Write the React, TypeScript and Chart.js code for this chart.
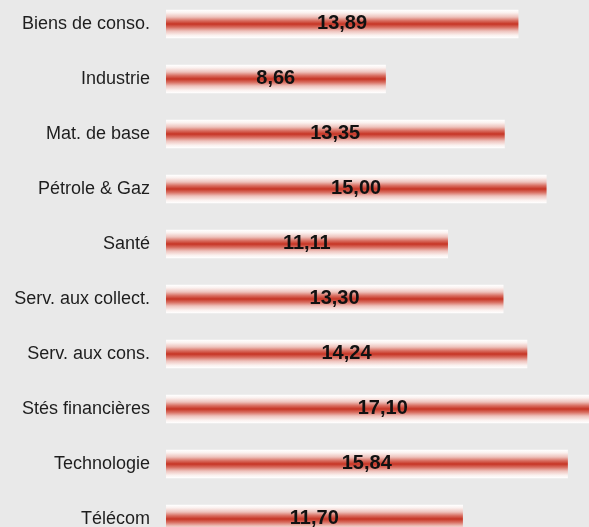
import React, { useEffect, useRef } from "react";
import { Chart, registerables } from "chart.js";

Chart.register(...registerables);

const categories = [
  "Biens de conso.",
  "Industrie",
  "Mat. de base",
  "Pétrole & Gaz",
  "Santé",
  "Serv. aux collect.",
  "Serv. aux cons.",
  "Stés financières",
  "Technologie",
  "Télécom",
];
const values = [13.89, 8.66, 13.35, 15.0, 11.11, 13.3, 14.24, 17.1, 15.84, 11.7];

const xMax = 20;
const BAR = 28;

const valueLabels = {
  id: "valueLabels",
  afterDatasetsDraw(chart: any) {
    const ctx = chart.ctx;
    const meta = chart.getDatasetMeta(0);
    ctx.save();
    ctx.font = "bold 20px 'Liberation Sans', Arial, sans-serif";
    ctx.fillStyle = "#111111";
    ctx.textAlign = "center";
    ctx.textBaseline = "middle";
    meta.data.forEach((el: any, i: number) => {
      const v = values[i];
      const txt = v.toFixed(2).replace(".", ",");
      const cx = (el.base + el.x) / 2;
      ctx.fillText(txt, cx, el.y - 1);
    });
    ctx.restore();
  },
};

function barGradient(c: any) {
  const chart = c.chart;
  const y = chart.scales && chart.scales.y;
  if (!y || c.dataIndex === undefined) return "#c5372a";
  const cy = y.getPixelForValue(c.dataIndex);
  if (!isFinite(cy)) return "#c5372a";
  const top = cy - BAR / 2;
  const g = chart.ctx.createLinearGradient(0, top, 0, top + BAR);
  g.addColorStop(0, "#ffffff");
  g.addColorStop(0.1, "#fbf1ef");
  g.addColorStop(0.25, "#eec2bc");
  g.addColorStop(0.38, "#d96f62");
  g.addColorStop(0.5, "#c63424");
  g.addColorStop(0.62, "#d96f62");
  g.addColorStop(0.75, "#eec2bc");
  g.addColorStop(0.9, "#fbf1ef");
  g.addColorStop(1, "#ffffff");
  return g;
}

export default function App() {
  const ref = useRef<HTMLCanvasElement | null>(null);
  useEffect(() => {
    if (!ref.current) return;
    const chart = new Chart(ref.current, {
      type: "bar",
      data: {
        labels: categories,
        datasets: [
          {
            data: values,
            backgroundColor: barGradient as any,
            borderWidth: 0,
            barThickness: BAR,
          },
        ],
      },
      options: {
        indexAxis: "y",
        animation: false,
        responsive: false,
        maintainAspectRatio: false,
        layout: { padding: { top: 0.5, bottom: 0.5, left: 0, right: 0 } },
        plugins: {
          legend: { display: false },
          tooltip: { enabled: false },
        },
        scales: {
          x: { display: false, min: 0, max: xMax },
          y: {
            grid: { display: false, drawTicks: false },
            border: { display: false },
            ticks: {
              padding: 16,
              color: "#1e1e1e",
              font: { size: 18, family: "'Liberation Sans', Arial, sans-serif" },
            },
            afterFit: (s: any) => {
              s.width = 166;
              s.paddingTop = 0;
              s.paddingBottom = 0;
            },
          },
        },
      },
      plugins: [valueLabels],
    });
    chart.update();
    return () => chart.destroy();
  }, []);
  return (
    <div
      style={{
        position: "fixed",
        left: 0,
        top: 0,
        width: 589,
        height: 527,
        overflow: "hidden",
        background: "#e9e9e9",
      }}
    >
      <canvas
        ref={ref}
        width={673}
        height={551}
        style={{ position: "absolute", left: 0, top: -4, width: 673, height: 551 }}
      />
    </div>
  );
}
